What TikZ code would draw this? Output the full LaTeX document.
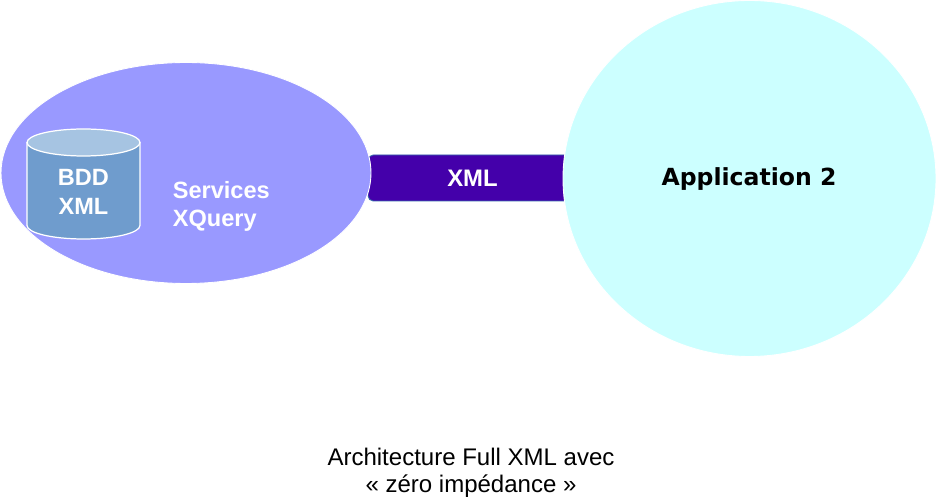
\documentclass[tikz,border=0pt]{standalone}
\usepackage{fontspec}
\setmainfont{Liberation Sans}
\newfontfamily\appfont{DejaVu Sans}
\usetikzlibrary{shapes.geometric,calc}
\definecolor{servfill}{HTML}{9999FF}
\definecolor{appfill}{HTML}{CCFFFF}
\definecolor{barfill}{HTML}{4400AA}
\definecolor{baredge}{HTML}{3366AA}
\definecolor{cylside}{HTML}{6F9CCD}
\definecolor{cyltop}{HTML}{A6C4E2}
\tikzset{
  blob/.style={ellipse,inner sep=0pt,draw=white,line width=0.5pt},
  whitelabel/.style={text=white,font=\fontsize{13.4}{16.4}\selectfont\bfseries,align=left},
}
\begin{document}
\begin{tikzpicture}[x=0.02cm,y=-0.02cm,line join=round]

% ===== cadre =====
\useasboundingbox (0,0) rectangle (936,502);

% ===== parametres du cylindre =====
\def\cylL{27}    % bord gauche
\def\cylR{140}   % bord droit
\def\cylTop{142.5}  % centre du haut
\def\cylBot{225.5}  % centre du bas
\def\cylRx{56.5}
\def\cylRy{13.5}

% ===== bande XML =====
\fill[barfill,draw=baredge,line width=0.5pt,rounded corners=3pt] (368,155) rectangle (590,201);

% ===== les deux bulles =====
\node[blob,fill=servfill,minimum width=370*0.02cm,minimum height=221*0.02cm] (services) at (186,173) {};
\node[blob,fill=appfill,minimum width=373*0.02cm,minimum height=356*0.02cm] (appli) at (749.5,178.5) {};

% ===== cylindre BDD =====
\path[fill=cylside,draw=white,line width=0.7pt]
  (\cylL,\cylTop) -- (\cylL,\cylBot)
  arc (180:360:{\cylRx} and {-\cylRy})
  -- (\cylR,\cylTop) -- cycle;
\fill[cyltop,draw=white,line width=0.7pt] (83.5,\cylTop) ellipse ({\cylRx} and {\cylRy});

% ===== textes =====
\node[whitelabel,align=center] (bdd) at (83.5,191.5) {BDD\\XML};
\node[whitelabel,anchor=west,inner sep=0pt] (xquery) at (172.5,206.5) {Services\\XQuery};
\node[whitelabel,align=center,font=\fontsize{13.6}{16.4}\selectfont\bfseries] (xml) at (472.5,178.5) {XML};
\node[font=\appfont\fontsize{13.4}{16}\selectfont\bfseries] (app2) at (749,179.5) {Application 2};
\node[font=\fontsize{13.67}{15.3}\selectfont,align=center] (legende) at (471,472.5) {Architecture Full XML avec\\« zéro impédance »};

\end{tikzpicture}
\end{document}
